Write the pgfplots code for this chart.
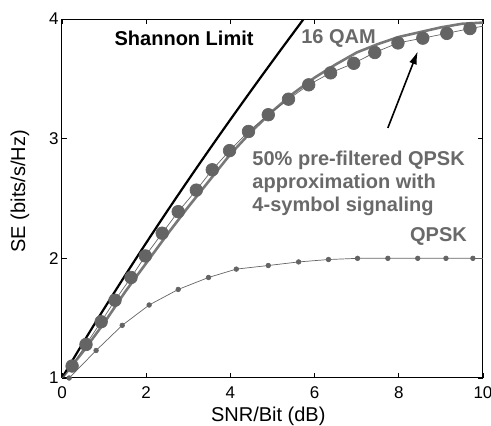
\documentclass[border=0pt]{standalone}
\usepackage{fontspec}
\setmainfont{Liberation Sans}
\usepackage{pgfplots}
\pgfplotsset{compat=1.18}
\usetikzlibrary{arrows.meta}
\definecolor{mkgray}{RGB}{100,100,100}
\definecolor{qamgray}{RGB}{120,120,120}
\definecolor{txtgray}{RGB}{105,105,105}
\begin{document}
\begin{tikzpicture}
\begin{axis}[
  at={(0,0)}, anchor=south west,
  scale only axis, width=421pt, height=359pt,
  xmin=0, xmax=10, ymin=1, ymax=4,
  xtick={0,2,4,6,8,10}, ytick={1,2,3,4},
  tick align=inside, major tick length=5pt,
  axis line style={line width=1pt}, tick style={line width=0.8pt, black},
  /pgf/number format/assume math mode=true,
  tick label style={font=\fontsize{17}{19}\selectfont},
  xticklabel style={yshift=-5pt},
  yticklabel style={xshift=0pt},
  xlabel={SNR/Bit (dB)}, ylabel={SE (bits/s/Hz)},
  label style={font=\fontsize{20}{22}\selectfont},
  xlabel style={at={(axis description cs:0.49,-0.106)}, anchor=center, inner sep=0pt},
  ylabel style={at={(axis description cs:-0.100,0.52)}, anchor=center},
  clip=true,
]
% QPSK
\addplot[color=mkgray, line width=0.7pt, mark=*, mark size=2.3pt, mark options={fill=mkgray, draw=mkgray}] coordinates {
(0.17,1.00) (0.81,1.23) (1.43,1.44) (2.07,1.61) (2.76,1.74) (3.48,1.84) (4.14,1.91) (4.90,1.94) (5.62,1.97) (6.33,1.99) (7.02,2.00) (7.74,2.00) (8.45,2.00) (9.12,2.00) (9.76,2.00)
};
\addplot[color=mkgray, line width=0.7pt, forget plot] coordinates {(9.76,2.00) (10,2.00)};
% 16 QAM
\addplot[color=qamgray, line width=2.6pt] coordinates {
(0,1.0) (0.5,1.22) (1,1.46) (1.5,1.72) (2,1.96) (2.5,2.2) (3,2.43) (3.5,2.65) (4,2.87) (4.5,3.06) (5,3.23) (5.5,3.38) (6,3.51) (6.5,3.62) (7,3.72) (7.5,3.79) (8,3.85) (8.5,3.89) (9,3.93) (9.5,3.96) (10,3.97)
};
% Shannon limit
\addplot[color=black, line width=2.2pt, smooth] coordinates {
(0,1) (0.424,1.25) (0.859,1.5) (1.306,1.75) (1.761,2) (2.226,2.25) (2.701,2.5) (3.186,2.75) (3.680,3) (4.183,3.25) (4.694,3.5) (5.213,3.75) (5.740,4)
};
% 50% pre-filtered QPSK approximation
\addplot[color=mkgray, line width=0.7pt, mark=*, mark size=6.3pt, mark indices={2,...,23}, mark options={fill=mkgray, draw=mkgray}] coordinates {
(0,1.0) (0.24,1.10) (0.57,1.28) (0.93,1.47) (1.26,1.65) (1.64,1.84) (1.98,2.02) (2.38,2.21) (2.76,2.39) (3.19,2.57) (3.57,2.74) (3.98,2.90) (4.43,3.06) (4.90,3.20) (5.38,3.33) (5.86,3.45) (6.38,3.55) (6.93,3.63) (7.43,3.72) (7.98,3.80) (8.57,3.84) (9.14,3.88) (9.69,3.92) (10,3.94)
};
% annotations
\node[font=\bfseries\fontsize{20}{22}\selectfont, anchor=center] at (axis cs:2.90,3.84) {Shannon Limit};
\node[font=\bfseries\fontsize{20}{22}\selectfont, text=txtgray, anchor=center] at (axis cs:6.57,3.84) {16 QAM};
\node[font=\bfseries\fontsize{20}{22}\selectfont, text=txtgray, anchor=east] at (axis cs:9.70,2.18) {QPSK};
\node[font=\bfseries\fontsize{20}{22}\selectfont, text=txtgray, anchor=north west, align=left, inner sep=0pt] at (axis cs:4.52,2.895) {50\% pre-filtered QPSK\\[1pt]approximation with\\[1pt]4-symbol signaling};
\draw[-{Latex[length=13pt,width=8pt]}, line width=1.6pt, black] (axis cs:7.74,3.09) -- (axis cs:8.45,3.73);
\end{axis}
\pgfresetboundingbox
\path[use as bounding box] (-62pt,-48pt) rectangle (429pt,378pt);
\end{tikzpicture}
\end{document}
